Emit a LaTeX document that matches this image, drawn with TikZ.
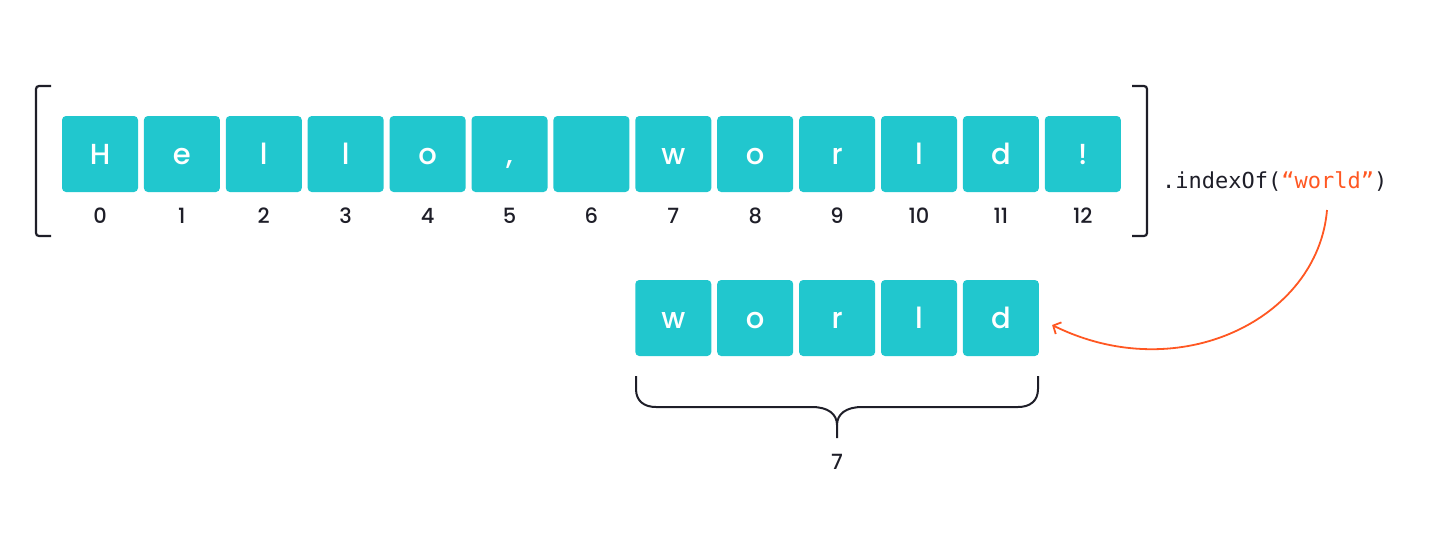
\documentclass[tikz,border=0pt]{standalone}
\usepackage{fontspec}
\setmainfont{Poppins Medium}
\setmonofont{DejaVu Sans Mono}
\usetikzlibrary{arrows.meta,calc}
\definecolor{tealbox}{HTML}{21C7CE}
\definecolor{codeorange}{HTML}{FF5722}
\definecolor{inkdark}{HTML}{1E1E28}
\tikzset{
  charbox/.style={fill=tealbox, rounded corners=4pt, minimum width=76pt, minimum height=76pt,
    inner sep=0pt, text=white, text height=21pt, text depth=0pt, font=\fontsize{29}{29}\selectfont},
  idxlabel/.style={text=inkdark, inner sep=0pt, text height=15pt, text depth=0pt, font=\fontsize{21}{21}\selectfont},
  codetext/.style={text=inkdark, inner sep=0pt, font=\ttfamily\fontsize{22}{22}\selectfont},
  bracketline/.style={line width=2.2pt, inkdark, rounded corners=3pt},
  braceline/.style={line width=2pt, inkdark},
  callarrow/.style={line width=1.8pt, codeorange, -{Straight Barb[length=6pt,width=13pt]}},
}

\begin{document}
\begin{tikzpicture}[x=1pt,y=1pt,yscale=-1]
\useasboundingbox (0,0) rectangle (1440,550);
%Top row of characters
\foreach \c [count=\i from 0] in {H,e,l,l,o,{,},{ },w,o,r,l,d,!} {
  \node[charbox] (c\i) at (100+81.9*\i,154) {\c};
  \node[idxlabel] (n\i) at (100+81.9*\i,216) {\i};
}
%Brackets
\draw[bracketline] (51,86) -| (36,236) -- (51,236);
\draw[bracketline] (1132,86) -| (1147,236) -- (1132,236);
%Method call
\node[codetext, anchor=west] (call) at (1162,182) {.indexOf(\textcolor{codeorange}{“world”})};
%Found substring
\foreach \c [count=\i from 7] in {w,o,r,l,d} {
  \node[charbox] (w\i) at (100+81.9*\i,318) {\c};
}
%Curly brace
\draw[braceline] (636,376) -- (636,389) .. controls (636,401) and (644,407) .. (656,407) -- (812,407)
  .. controls (828,407) and (837,414) .. (837,425) -- (837,438);
\draw[braceline] (1038,376) -- (1038,389) .. controls (1038,401) and (1030,407) .. (1018,407) -- (862,407)
  .. controls (846,407) and (837,414) .. (837,425);
\node[idxlabel] (result) at (837,462) {7};
%Arrow
\coordinate (arrowstart) at (1327,210);
\coordinate (arrowtip) at ($(w11.east)+(13,7)$);
\draw[callarrow] (arrowstart) .. controls (1318,318) and (1180,388) .. (arrowtip);
\end{tikzpicture}
\end{document}
